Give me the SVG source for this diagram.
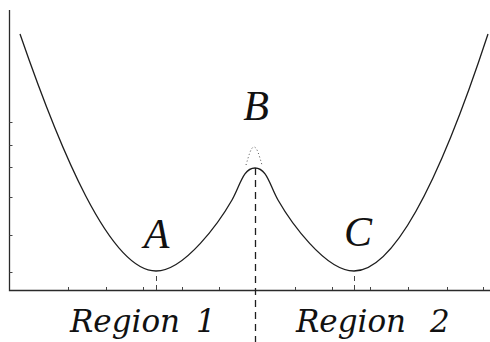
<svg xmlns="http://www.w3.org/2000/svg" width="490" height="342" viewBox="0 0 490 342">
<style>
.ax{stroke:#2a2a2a;stroke-width:1.3;fill:none}
.tk{stroke:#444;stroke-width:1}
.cv{stroke:#1e1e1e;stroke-width:1.3;fill:none}
.ds{stroke:#1e1e1e;stroke-width:1.3;stroke-dasharray:7,5;fill:none}
.dt{stroke:#555;stroke-width:1;stroke-dasharray:1,2.5;fill:none}
.lbl{font-family:"Liberation Serif","Times New Roman",serif;font-style:italic;font-size:42px;fill:#111;text-anchor:middle}
.reg{font-family:"DejaVu Serif",serif;font-style:italic;font-size:31px;fill:#111}
</style>
<rect width="490" height="342" fill="#fff"/>
<g id="axes">
<path class="ax" d="M9.5,10 V290.5 H490"/>
<g class="tk">
<path d="M9.5,122.5h3M9.5,145.5h3M9.5,167.5h3M9.5,197.5h3M9.5,235.5h3M9.5,272.5h3"/>
<path d="M68.5,290v-3M106.5,290v-3M143.5,290v-3M182.5,290v-3M219.5,290v-3M295.5,290v-3M332.5,290v-3M370.5,290v-3M408.5,290v-3M447.5,290v-3M483.5,290v-3"/>
<path d="M156.5,290v-5M156.5,281v-5M354.5,290v-5M354.5,281v-5"/>
</g>
</g>
<g id="connectors">
<path class="cv" d="M20,34 C60,150 110,271 156,271 C185,271 220,221 232,200 C240,186 243,168 255,168 C267,168 270,186 278,200 C290,221 325,271 354,271 C400,271 450,150 488,34"/>
<path class="dt" d="M246,165 C249,155 251,147 254,147 C257,147 259,155 262,165"/>
<path class="ds" d="M255.5,168 V342"/>
</g>
<g id="A"><text class="lbl" x="156.5" y="248">A</text></g>
<g id="B"><text class="lbl" x="256" y="120">B</text></g>
<g id="C"><text class="lbl" x="358" y="246">C</text></g>
<g id="region1"><text class="reg" x="70" y="332">Region <tspan x="196">1</tspan></text></g>
<g id="region2"><text class="reg" x="296" y="332">Region <tspan x="430">2</tspan></text></g>
</svg>
